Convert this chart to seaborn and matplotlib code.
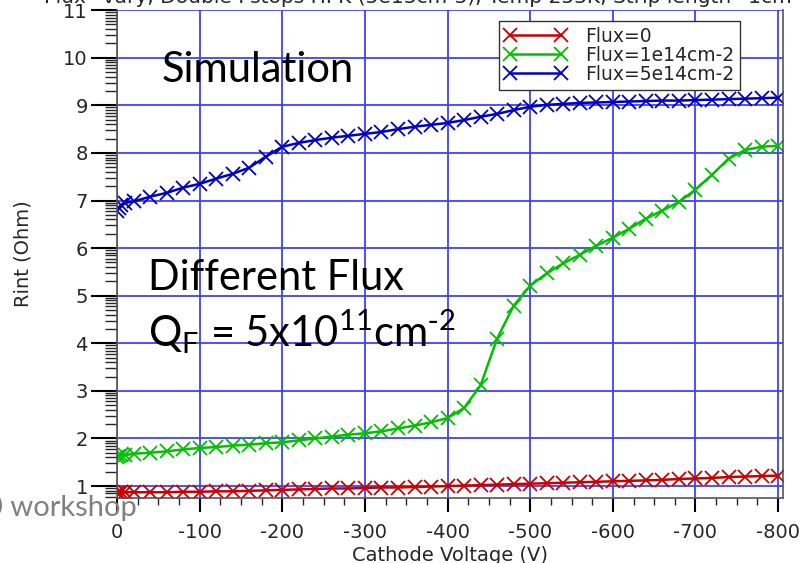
import numpy as np
import pandas as pd
import matplotlib
matplotlib.use("Agg")
import matplotlib.pyplot as plt
import seaborn as sns

# cathode voltage (V)
volt = [0, -2, -5, -10, -20, -40, -60, -80, -100, -120, -140, -160, -180, -200,
        -220, -240, -260, -280, -300, -320, -340, -360, -380, -400, -420, -440,
        -460, -480, -500, -520, -540, -560, -580, -600, -620, -640, -660, -680,
        -700, -720, -740, -760, -780, -800]

rint_flux0 = [0.86, 0.86, 0.87, 0.87, 0.87, 0.87, 0.87, 0.88, 0.88, 0.89, 0.89, 0.90,
              0.91, 0.92, 0.93, 0.94, 0.95, 0.95, 0.96, 0.97, 0.97, 0.98, 0.99, 1.00,
              1.01, 1.02, 1.03, 1.04, 1.05, 1.06, 1.07, 1.08, 1.09, 1.10, 1.11, 1.12,
              1.13, 1.15, 1.16, 1.17, 1.19, 1.20, 1.21, 1.22]
rint_flux1e14 = [1.62, 1.64, 1.66, 1.65, 1.68, 1.70, 1.73, 1.77, 1.80, 1.82, 1.85, 1.87,
                 1.90, 1.92, 1.96, 2.00, 2.04, 2.08, 2.11, 2.15, 2.21, 2.27, 2.34, 2.43,
                 2.64, 3.12, 4.10, 4.79, 5.21, 5.47, 5.68, 5.86, 6.05, 6.22, 6.41, 6.62,
                 6.79, 6.97, 7.23, 7.54, 7.88, 8.06, 8.13, 8.15]
rint_flux5e14 = [6.78, 6.85, 6.90, 6.95, 6.98, 7.08, 7.16, 7.27, 7.35, 7.46, 7.56, 7.69,
                 7.92, 8.13, 8.21, 8.27, 8.32, 8.36, 8.40, 8.44, 8.50, 8.55, 8.59, 8.63,
                 8.69, 8.76, 8.82, 8.90, 8.97, 9.01, 9.03, 9.05, 9.06, 9.07, 9.08, 9.09,
                 9.10, 9.10, 9.11, 9.12, 9.13, 9.14, 9.15, 9.16]

labels = ["Flux=0", "Flux=1e14cm-2", "Flux=5e14cm-2"]
colors = ["#c80000", "#00c000", "#0000c0"]

df = pd.DataFrame({"volt": volt * 3,
                   "rint": rint_flux0 + rint_flux1e14 + rint_flux5e14,
                   "flux": [labels[0]] * len(volt) + [labels[1]] * len(volt) + [labels[2]] * len(volt)})

sns.set_style("white")
plt.rcParams["font.family"] = ["DejaVu Sans"]
plt.rcParams["axes.unicode_minus"] = False

fig = plt.figure(figsize=(8.04, 5.63), dpi=100)
ax = fig.add_axes([0.1455, 0.1155, 0.8285, 0.8665])

for lab, col in zip(labels, colors):
    sns.lineplot(data=df[df["flux"] == lab], x="volt", y="rint", ax=ax, color=col,
                 marker="x", markersize=10, markeredgewidth=1.3, linewidth=1.8,
                 markeredgecolor=col, label=lab, sort=False)

ax.set_xlim(0, -806)
ax.set_ylim(0.75, 11)
ax.set_xticks(np.arange(0, -801, -100))
ax.set_xticks(np.arange(0, -801, -25), minor=True)
ax.set_yticks(np.arange(1, 12))
ymin = [n + np.log10(k) for n in range(0, 11) for k in range(2, 10)]
ax.set_yticks([v for v in ymin if 0.75 <= v <= 11], minor=True)

ax.grid(True, which="major", color="#4040ff", linewidth=1.3)
ax.tick_params(axis="x", which="major", length=10, width=1.5, labelsize=14, direction="out",
               bottom=True, color="black", pad=8)
ax.tick_params(axis="x", which="minor", length=5, width=1, direction="out", bottom=True)
ax.tick_params(axis="y", which="major", length=19, width=1.5, labelsize=14, direction="out",
               left=True, color="black", pad=2)
ax.tick_params(axis="y", which="minor", length=9, width=1, direction="out", left=True)

for s in ["left", "bottom", "right"]:
    ax.spines[s].set_color("#555555")
    ax.spines[s].set_linewidth(1.2)
ax.spines["top"].set_visible(False)

ax.set_xlabel("Cathode Voltage (V)", fontsize=14, labelpad=3)
ax.set_ylabel("Rint (Ohm)", fontsize=14, labelpad=22)

leg = ax.legend(loc="upper right", bbox_to_anchor=(0.935, 0.977), borderaxespad=0,
                fontsize=13.5, numpoints=2, handlelength=3.3, handletextpad=1.0,
                labelspacing=0.0, fancybox=False, edgecolor="#333333", framealpha=1,
                borderpad=0.3)
leg.get_frame().set_linewidth(1.0)

fig.text(0.52, 1.005, "Flux=vary, Double Pstops HPK (5e13cm-3), Temp 253K, Strip length=1cm",
         ha="center", va="center", fontsize=14.5)

big = dict(family=["Lato", "DejaVu Sans"], fontsize=30, color="black")
fig.text(162 / 804, 1 - 70 / 563, "Simulation", ha="left", va="center", **big)
fig.text(148 / 804, 1 - 278 / 563, "Different Flux", ha="left", va="center", **big)
fig.text(148 / 804, 1 - 332 / 563,
         r"Q$_\mathregular{F}$ = 5x10$^\mathregular{11}$cm$^\mathregular{\text{-}2}$",
         ha="left", va="center", **big)
fig.text(-14 / 804, 1 - 508 / 563, "0 workshop", ha="left", va="center",
         family=["Lato", "DejaVu Sans"], fontsize=21, color="#808080")

fig.savefig("out.png", dpi=100)
